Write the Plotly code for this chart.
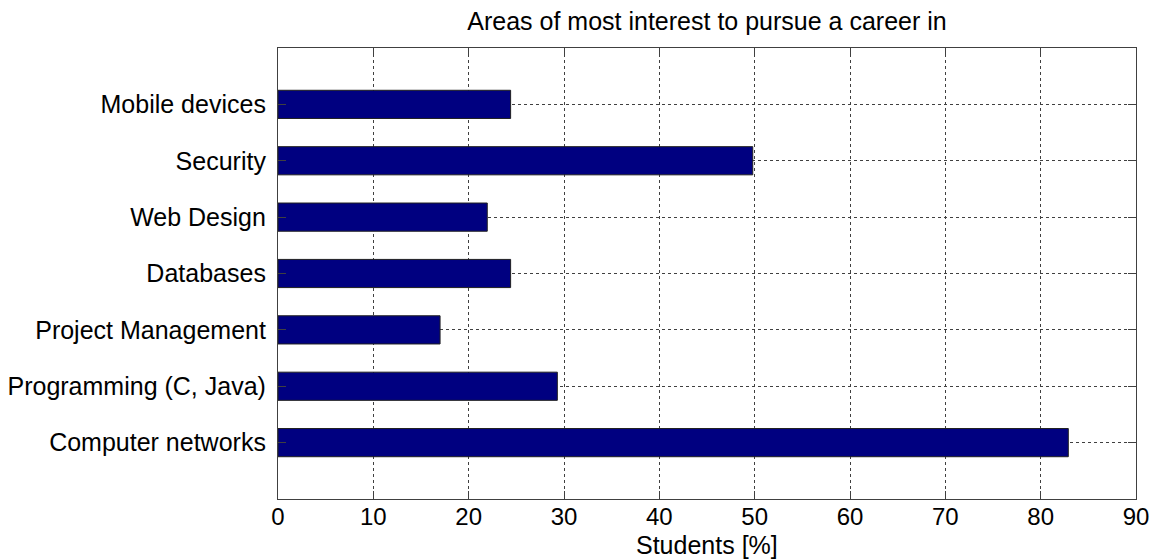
import plotly.graph_objects as go

categories = ["Computer networks", "Programming (C, Java)", "Project Management",
              "Databases", "Web Design", "Security", "Mobile devices"]
values = [82.9, 29.3, 17.0, 24.4, 21.95, 49.8, 24.4]
positions = list(range(1, len(categories) + 1))
x_ticks = list(range(0, 91, 10))

font_family = "Liberation Sans, Arial, sans-serif"
fsize = 25

fig = go.Figure()
fig.add_trace(go.Bar(
    x=values, y=positions, orientation="h", width=0.5,
    marker=dict(color="#000080", line=dict(color="#202020", width=1)),
))

axis_common = dict(
    showline=True, linecolor="#404040", linewidth=1.2, mirror="allticks",
    ticks="inside", ticklen=8, tickcolor="#404040", tickwidth=1,
    showgrid=True, gridcolor="#404040", griddash="3px,3px", gridwidth=1,
    zeroline=False, automargin=False,
)

fig.update_layout(
    width=1152, height=559,
    margin=dict(l=278, r=16, t=48, b=60),
    paper_bgcolor="white", plot_bgcolor="white",
    showlegend=False,
    title=dict(text="Areas of most interest to pursue a career in",
               x=(278 + 1136) / 2 / 1152, xanchor="center", y=1 - 21 / 559, yanchor="middle",
               font=dict(family=font_family, size=fsize, color="#000000")),
    xaxis=dict(range=[0, 90], tickvals=x_ticks, ticklabelstandoff=-4,
               tickfont=dict(family=font_family, size=24, color="#000000"), **axis_common),
    yaxis=dict(range=[0, 8], tickvals=positions, ticktext=categories,
               ticklabelstandoff=6,
               tickfont=dict(family=font_family, size=fsize, color="#000000"), **axis_common),
    annotations=[dict(text="Students [%]", xref="paper", yref="paper",
                      x=0.5, y=-46 / 451, xanchor="center", yanchor="middle",
                      showarrow=False,
                      font=dict(family=font_family, size=fsize, color="#000000"))],
)

fig.write_html("out.html")
